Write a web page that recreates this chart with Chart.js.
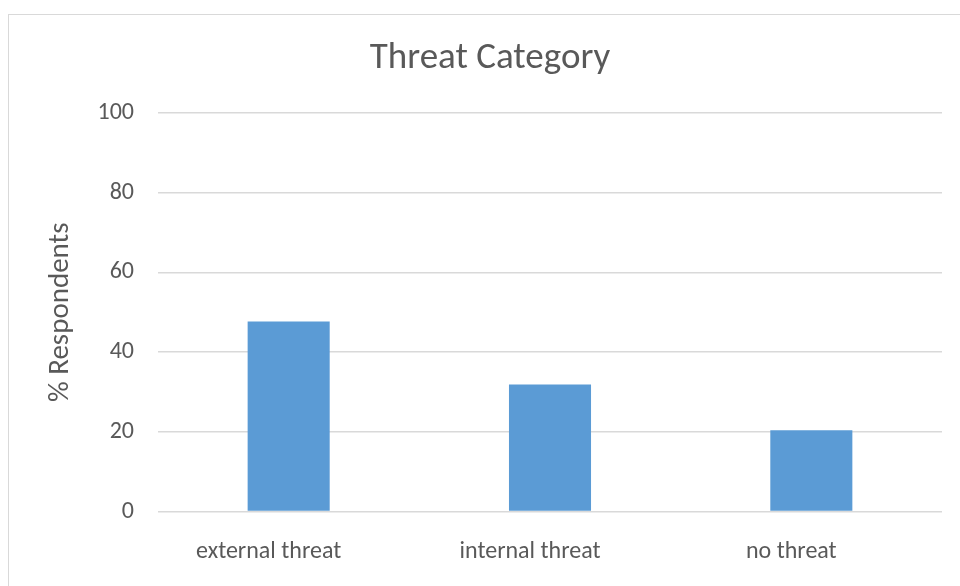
<!DOCTYPE html>
<html>
<head>
<meta charset="utf-8">
<script src="https://cdn.jsdelivr.net/npm/chart.js@4"></script>
<style>
  html, body { margin: 0; padding: 0; background: #fff; overflow: hidden; }
  #frame { position: absolute; left: 8px; top: 14px; width: 1000px; height: 1000px; border: 1.5px solid #d9d9d9; }
  #wrap { position: absolute; left: 0; top: 0; width: 960px; height: 586px; }
</style>
</head>
<body>
<div id="frame"></div>
<div id="wrap"><canvas id="chart" width="960" height="586"></canvas></div>
<script>
var categories = ["external threat", "internal threat", "no threat"];
var respondents = [47.7, 31.9, 20.4];
var yTicks = [0, 20, 40, 60, 80, 100];

var fontFamily = "Carlito, Calibri, 'Open Sans', sans-serif";
var textColor = "#595959";

var ctx = document.getElementById("chart").getContext("2d");
var chartobj = new Chart(ctx, {
    type: "bar",
    data: {
        labels: categories,
        datasets: [
            {
                data: respondents,
                backgroundColor: "#5b9bd5",
                borderWidth: 0,
                categoryPercentage: 1,
                barPercentage: 0.314
            }
        ]
    },
    options: {
        responsive: false,
        animation: false,
        // left/right padding also centres the title on the framed box
        layout: { padding: { left: 38, right: 18, top: 0, bottom: 0 } },
        plugins: {
            legend: { display: false },
            tooltip: { enabled: false },
            title: {
                display: true,
                text: "Threat Category",
                color: textColor,
                font: { family: fontFamily, size: 37, weight: "normal" },
                padding: { top: 36.3, bottom: 32.3 }
            }
        },
        scales: {
            x: {
                grid: { display: false },
                border: { display: false },
                ticks: {
                    color: textColor,
                    font: { family: fontFamily, size: 24 },
                    padding: 18,
                    labelOffset: -20, // labels sit a bit left of the bars in the original
                    maxRotation: 0
                },
                afterFit: function(scale) { scale.height = 74.5; }
            },
            y: {
                min: 0,
                max: 100,
                afterBuildTicks: function(scale) {
                    scale.ticks = yTicks.map(function(v) { return { value: v }; });
                },
                grid: { color: "#d9d9d9", lineWidth: 1.5, drawTicks: false },
                border: { display: false },
                ticks: {
                    color: textColor,
                    font: { family: fontFamily, size: 24 },
                    padding: 24
                },
                title: {
                    display: true,
                    text: "% Respondents",
                    color: textColor,
                    font: { family: fontFamily, size: 29 },
                    padding: { top: 5.6, bottom: 0 }
                },
                afterFit: function(scale) { scale.width = 120; }
            }
        }
    }
});
</script>
</body>
</html>
